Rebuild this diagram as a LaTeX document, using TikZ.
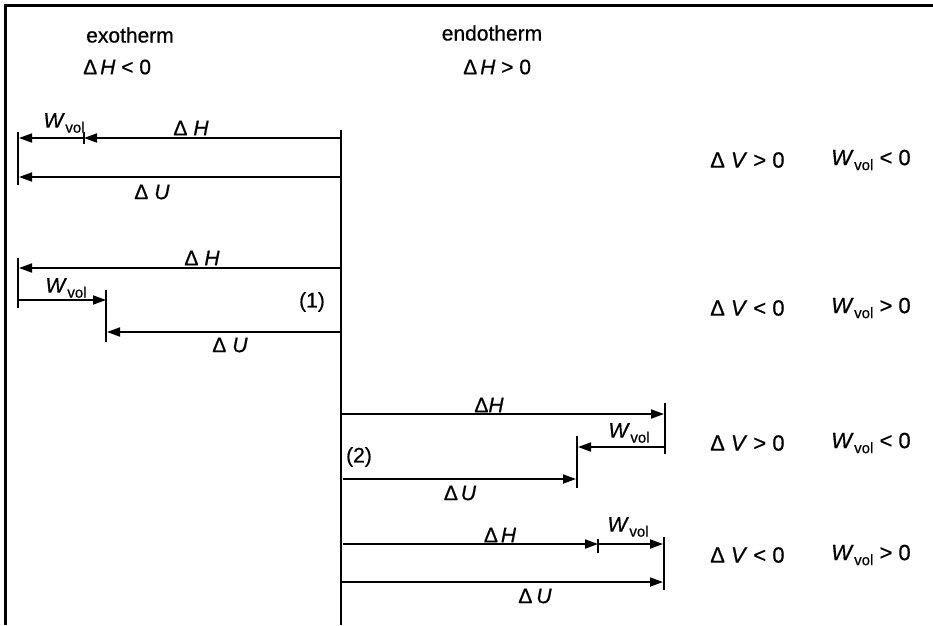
\documentclass[tikz,border=0pt]{standalone}
\usepackage{fontspec}
\setmainfont{Liberation Sans}[FakeBold=0.6]
\usetikzlibrary{arrows.meta}
\newcommand{\Wv}{\textit{W}\kern0.5pt\raisebox{-5pt}{\fontsize{15pt}{15pt}\selectfont vol}}
\newcommand{\Dl}{Δ\kern6pt}
\begin{document}
\begin{tikzpicture}[x=1pt,y=-1pt,
  arr/.style={line width=1.8pt,-{Triangle[length=13pt,width=9pt]}},
  tickline/.style={line width=1.8pt},
  frameline/.style={line width=3pt},
  lab/.style={inner sep=0pt,font=\fontsize{21pt}{24pt}\selectfont},
  head/.style={inner sep=0pt,font=\fontsize{21pt}{24pt}\selectfont},
  side/.style={inner sep=0pt,anchor=west,font=\fontsize{22pt}{24pt}\selectfont}]
\useasboundingbox (0,0) rectangle (933,625);
% frame
\coordinate (fTL) at (5,5);
\coordinate (fTR) at (933,5);
\coordinate (fBL) at (5,625);
\draw[frameline] (fTR) -- (fTL) -- (fBL);
% main axis
\coordinate (axT) at (341,130);
\coordinate (axB) at (341,625);
\draw[tickline] (axT) -- (axB);
% header
\node[head] (exo) at (130,35) {exotherm};
\node[head,anchor=west] (exoH) at (83,67) {Δ\kern3pt\textit{H} < 0};
\node[head] (endo) at (492,33) {endotherm};
\node[head,anchor=west] (endoH) at (463,67) {Δ\kern3pt\textit{H} > 0};
% ---------- row 1 ----------
\coordinate (r1H0) at (341,138);
\coordinate (r1Hm) at (84,138);
\coordinate (r1W1) at (19,138);
\coordinate (r1U0) at (341,177);
\coordinate (r1U1) at (19,177);
\coordinate (r1tA) at (18,132);
\coordinate (r1tB) at (18,185);
\coordinate (r1sA) at (84,132);
\coordinate (r1sB) at (84,144);
\draw[tickline] (r1tA) -- (r1tB);
\draw[tickline] (r1sA) -- (r1sB);
\draw[arr] (r1H0) -- (r1Hm);
\draw[arr] (r1Hm) -- (r1W1);
\draw[arr] (r1U0) -- (r1U1);
\node[lab] (r1Wl) at (64,123) {\Wv};
\node[lab] (r1Hl) at (191,128) {\Dl\textit{H}};
\node[lab] (r1Ul) at (152,192) {\Dl\textit{U}};
\node[side] (r1V) at (710,160) {\Dl\textit{V} > 0};
\node[side] (r1Ws) at (831,160) {\Wv\ < 0};
% ---------- row 2 ----------
\coordinate (r2H0) at (341,268);
\coordinate (r2H1) at (19,268);
\coordinate (r2tA) at (18,258);
\coordinate (r2tB) at (18,308);
\coordinate (r2W0) at (18,300);
\coordinate (r2W1) at (106,300);
\coordinate (r2sA) at (106,290);
\coordinate (r2sB) at (106,342);
\coordinate (r2U0) at (341,332);
\coordinate (r2U1) at (107,332);
\draw[tickline] (r2tA) -- (r2tB);
\draw[tickline] (r2sA) -- (r2sB);
\draw[arr] (r2H0) -- (r2H1);
\draw[arr] (r2W0) -- (r2W1);
\draw[arr] (r2U0) -- (r2U1);
\node[lab] (r2Hl) at (202,258) {\Dl\textit{H}};
\node[lab] (r2Wl) at (66,288) {\Wv};
\node[lab] (r2n) at (312,302) {(1)};
\node[lab] (r2Ul) at (230,345) {\Dl\textit{U}};
\node[side] (r2V) at (710,308) {\Dl\textit{V} < 0};
\node[side] (r2Ws) at (831,308) {\Wv\ > 0};
% ---------- row 3 ----------
\coordinate (r3H0) at (341,414);
\coordinate (r3H1) at (664,414);
\coordinate (r3tA) at (665,403);
\coordinate (r3tB) at (665,454);
\coordinate (r3W0) at (665,447);
\coordinate (r3W1) at (578,447);
\coordinate (r3sA) at (577,436);
\coordinate (r3sB) at (577,488);
\coordinate (r3U0) at (343,479);
\coordinate (r3U1) at (576,479);
\draw[tickline] (r3tA) -- (r3tB);
\draw[tickline] (r3sA) -- (r3sB);
\draw[arr] (r3H0) -- (r3H1);
\draw[arr] (r3W0) -- (r3W1);
\draw[arr] (r3U0) -- (r3U1);
\node[lab] (r3Hl) at (489,405) {Δ\textit{H}};
\node[lab] (r3Wl) at (629,433) {\Wv};
\node[lab] (r3n) at (359,457) {(2)};
\node[lab] (r3Ul) at (460,493) {Δ\kern3pt\textit{U}};
\node[side] (r3V) at (710,443) {\Dl\textit{V} > 0};
\node[side] (r3Ws) at (831,443) {\Wv\ < 0};
% ---------- row 4 ----------
\coordinate (r4H0) at (343,544);
\coordinate (r4Hm) at (598,544);
\coordinate (r4W1) at (663,544);
\coordinate (r4sA) at (598,539);
\coordinate (r4sB) at (598,553);
\coordinate (r4tA) at (664,537);
\coordinate (r4tB) at (664,590);
\coordinate (r4U0) at (341,582);
\coordinate (r4U1) at (663,582);
\draw[tickline] (r4tA) -- (r4tB);
\draw[tickline] (r4sA) -- (r4sB);
\draw[arr] (r4H0) -- (r4Hm);
\draw[arr] (r4Hm) -- (r4W1);
\draw[arr] (r4U0) -- (r4U1);
\node[lab] (r4Hl) at (500,535) {Δ\kern3pt\textit{H}};
\node[lab] (r4Wl) at (628,527) {\Wv};
\node[lab] (r4Ul) at (535,596) {Δ\kern4pt\textit{U}};
\node[side] (r4V) at (710,555) {\Dl\textit{V} < 0};
\node[side] (r4Ws) at (831,555) {\Wv\ > 0};
\end{tikzpicture}
\end{document}
